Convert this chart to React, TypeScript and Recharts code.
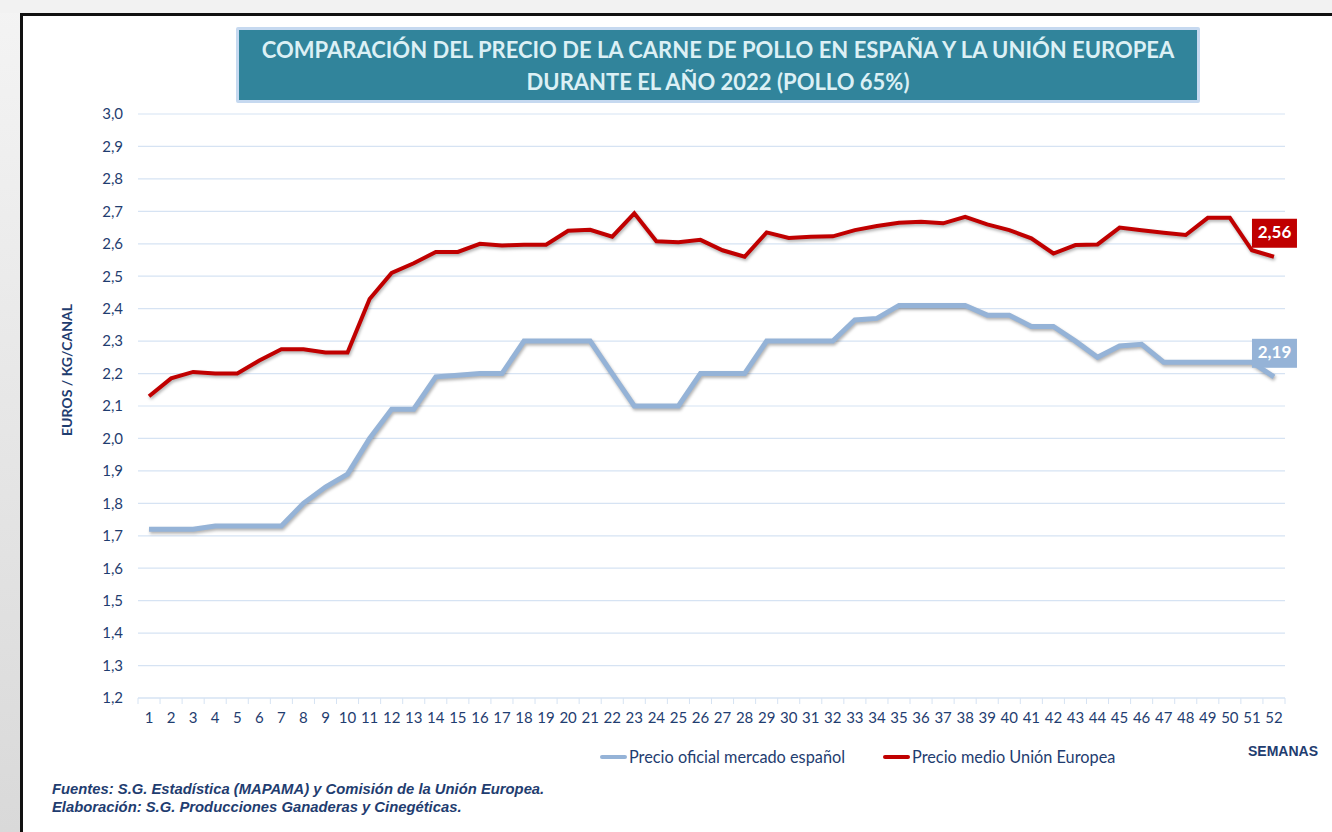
import { LineChart, Line, XAxis, YAxis, CartesianGrid, Legend } from 'recharts';

const weeks = ['1', '2', '3', '4', '5', '6', '7', '8', '9', '10', '11', '12', '13', '14', '15', '16', '17', '18', '19', '20', '21', '22', '23', '24', '25', '26', '27', '28', '29', '30', '31', '32', '33', '34', '35', '36', '37', '38', '39', '40', '41', '42', '43', '44', '45', '46', '47', '48', '49', '50', '51', '52'];

const spainPrice = [1.72, 1.72, 1.72, 1.73, 1.73, 1.73, 1.73, 1.80, 1.85, 1.89, 2.00, 2.09, 2.09, 2.19, 2.195, 2.20, 2.20, 2.30, 2.30, 2.30, 2.30, 2.20, 2.10, 2.10, 2.10, 2.20, 2.20, 2.20, 2.30, 2.30, 2.30, 2.30, 2.365, 2.37, 2.41, 2.41, 2.41, 2.41, 2.38, 2.38, 2.345, 2.345, 2.30, 2.25, 2.285, 2.29, 2.235, 2.235, 2.235, 2.235, 2.235, 2.19];

const euPrice = [2.13, 2.185, 2.205, 2.20, 2.20, 2.24, 2.275, 2.275, 2.265, 2.265, 2.43, 2.51, 2.54, 2.575, 2.575, 2.60, 2.595, 2.597, 2.597, 2.64, 2.643, 2.622, 2.694, 2.608, 2.605, 2.612, 2.58, 2.56, 2.635, 2.618, 2.622, 2.623, 2.642, 2.655, 2.665, 2.668, 2.663, 2.683, 2.66, 2.642, 2.617, 2.57, 2.596, 2.598, 2.65, 2.642, 2.634, 2.627, 2.68, 2.68, 2.58, 2.56];

const yTicks = [1.2, 1.3, 1.4, 1.5, 1.6, 1.7, 1.8, 1.9, 2.0, 2.1, 2.2, 2.3, 2.4, 2.5, 2.6, 2.7, 2.8, 2.9, 3.0];

const seriesNames = { spain: 'Precio oficial mercado español', eu: 'Precio medio Unión Europea' };

const data = weeks.map((w, i) => ({ week: w, spain: spainPrice[i], eu: euPrice[i] }));

const BLUE = '#95b3d7';
const RED = '#c00000';
const NAVY = '#1f3d70';
const GRID = '#d6e3f3';
const FONT = 'Lato, "Open Sans", sans-serif';
const ARIAL = '"Liberation Sans", Arial, sans-serif';

const comma = (v: number, d: number) => v.toFixed(d).replace('.', ',');

const XTick = (props: any) => {
  const { x, y, payload, index } = props;
  const half = payload.offset ?? 11;
  const last = index === weeks.length - 1;
  return (
    <g>
      <line x1={x - half} x2={x - half} y1={y} y2={y + 6} stroke={GRID} />
      {last && <line x1={x + half} x2={x + half} y1={y} y2={y + 6} stroke={GRID} />}
      <text x={x} y={y + 21} textAnchor="middle" dominantBaseline="middle" fill={NAVY} fontSize={15} fontFamily={FONT}>
        {payload.value}
      </text>
    </g>
  );
};

const endLabel = (color: string) => (props: any) => {
  const { x, y, value, index } = props;
  if (index !== weeks.length - 1) return null;
  return (
    <g>
      <rect x={x - 22} y={y - 38} width={45} height={29} fill={color} />
      <text x={x + 0.5} y={y - 23} textAnchor="middle" dominantBaseline="middle" fill="#fff" fontSize={17} fontWeight={700} fontFamily={FONT}>
        {comma(value, 2)}
      </text>
    </g>
  );
};

const LegendContent = () => (
  <div style={{ display: 'flex', alignItems: 'center', fontFamily: FONT, fontSize: 16.3, color: NAVY }}>
    {[
      { name: seriesNames.spain, color: BLUE },
      { name: seriesNames.eu, color: RED },
    ].map((it, i) => (
      <div key={it.name} style={{ display: 'flex', alignItems: 'center', marginLeft: i ? 38 : 0 }}>
        <span style={{ display: 'inline-block', width: 27, height: 4, borderRadius: 2, background: it.color, marginRight: 2 }} />
        <span>{it.name}</span>
      </div>
    ))}
  </div>
);

export default function App() {
  return (
    <div style={{ position: 'absolute', left: 0, top: 0, width: 1332, height: 832, overflow: 'hidden', background: 'linear-gradient(#f4f4f4, #d9d9d9)' }}>
      <style>{`.recharts-line-curve { filter: drop-shadow(1px 2px 1.5px rgba(0,0,0,0.3)); }`}</style>
      <div style={{ position: 'absolute', left: 0, top: 0, width: 1332, height: 13, background: '#f2f2f2' }} />
      <div style={{ position: 'absolute', left: 20, top: 13, width: 1340, height: 840, background: '#fff', borderLeft: '3px solid #111', borderTop: '3px solid #111' }} />

      <div style={{ position: 'absolute', left: 236, top: 27, width: 958, height: 66, background: '#31849b', border: '3px solid #c6d9f0', borderRadius: 2, color: '#dcf0f5', fontFamily: FONT, fontWeight: 700, fontSize: 22, lineHeight: '32px', textAlign: 'center', paddingTop: 4 }}>
        COMPARACIÓN DEL PRECIO DE LA CARNE DE POLLO EN ESPAÑA Y LA UNIÓN EUROPEA
        <br />
        DURANTE EL AÑO 2022 (POLLO 65%)
      </div>

      <div style={{ position: 'absolute', left: 66, top: 370, transform: 'translate(-50%, -50%) rotate(-90deg)', whiteSpace: 'nowrap', fontFamily: FONT, fontWeight: 700, fontSize: 14, color: NAVY }}>
        EUROS / KG/CANAL
      </div>

      <div style={{ position: 'absolute', left: 0, top: 0 }}>
        <LineChart width={1332} height={832} data={data} margin={{ top: 114, right: 47, left: 98, bottom: 104 }}>
          <CartesianGrid horizontal vertical={false} stroke={GRID} strokeWidth={1.2} />
          <XAxis dataKey="week" scale="band" tickLine={false} tickSize={0} tickMargin={0} height={30} axisLine={{ stroke: GRID, strokeWidth: 1.2 }} tick={<XTick />} interval={0} />
          <YAxis domain={[1.2, 3.0]} ticks={yTicks} width={40} axisLine={false} tickLine={false} tickSize={0} tickMargin={15} tickFormatter={(v: number) => comma(v, 1)} tick={{ fill: NAVY, fontSize: 15, fontFamily: FONT }} />
          <Legend verticalAlign="middle" content={<LegendContent />} wrapperStyle={{ position: 'absolute', left: 600, top: 747, width: 'auto' }} />
          <Line type="linear" dataKey="spain" name={seriesNames.spain} stroke={BLUE} strokeWidth={5} dot={false} isAnimationActive={false} label={endLabel(BLUE)} />
          <Line type="linear" dataKey="eu" name={seriesNames.eu} stroke={RED} strokeWidth={4} dot={false} isAnimationActive={false} label={endLabel(RED)} />
        </LineChart>
      </div>

      <div style={{ position: 'absolute', left: 1248, top: 743, fontFamily: ARIAL, fontWeight: 700, fontSize: 14, color: NAVY }}>SEMANAS</div>

      <div style={{ position: 'absolute', left: 52, top: 780, fontFamily: ARIAL, fontWeight: 700, fontStyle: 'italic', fontSize: 14.8, lineHeight: '18px', color: NAVY }}>
        Fuentes: S.G. Estadística (MAPAMA) y Comisión de la Unión Europea.
        <br />
        Elaboración: S.G. Producciones Ganaderas y Cinegéticas.
      </div>
    </div>
  );
}
